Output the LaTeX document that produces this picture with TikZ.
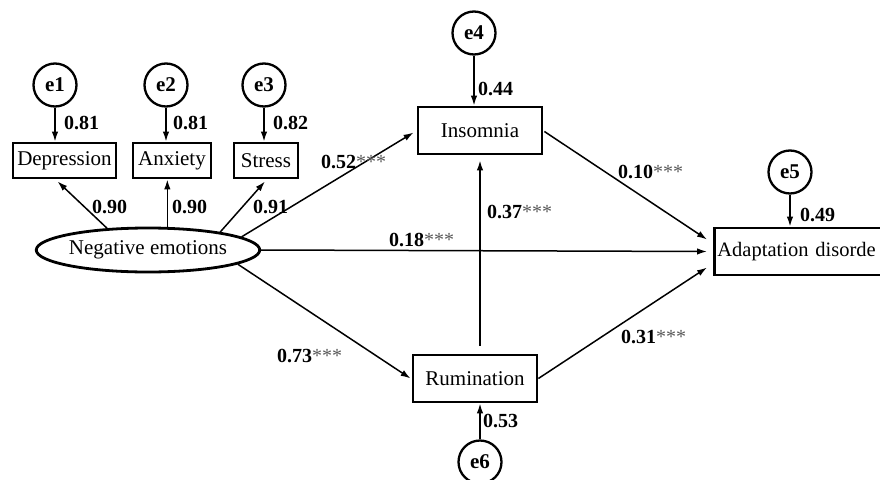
\documentclass[tikz,border=0pt]{standalone}
\usepackage{fontspec}
\setmainfont{Liberation Serif}
\usetikzlibrary{arrows.meta,calc,shapes.geometric}
\begin{document}
\begin{tikzpicture}[x=1pt,y=-1pt,
  every node/.style={font=\fontsize{21}{24}\selectfont},
  obs/.style={draw,line width=2.8pt,inner sep=0pt,minimum height=35pt},
  obsbig/.style={draw,line width=2.8pt,inner sep=0pt,minimum height=47pt,minimum width=124pt},
  err/.style={draw,circle,line width=2.3pt,minimum size=43pt,inner sep=0pt,font=\fontsize{21}{22}\selectfont\bfseries},
  lat/.style={draw,ellipse,line width=2.8pt,minimum width=210pt,minimum height=44pt,inner sep=0pt},
  arr/.style={line width=1.5pt,-{Latex[length=10pt,width=6.5pt]}},
  lab/.style={anchor=west,inner sep=0pt,font=\fontsize{20}{22}\selectfont\bfseries},
]
\useasboundingbox (0,0) rectangle (880,479);
\clip (0,0) rectangle (880,479);
\newcommand{\stars}{{\mdseries\color{black!65}***}}
% error circles
\node[err] (e1) at (55,85) {e1};
\node[err] (e2) at (166,85) {e2};
\node[err] (e3) at (264,85) {e3};
\node[err] (e4) at (474,33) {e4};
\node[err] (e5) at (790,172) {e5};
\node[err] (e6) at (480,462) {e6};
% indicators
\node[obs,minimum width=103pt] (dep) at (64.5,160.5) {Depression};
\node[obs,minimum width=78pt] (anx) at (172,160.5) {Anxiety};
\node[obs,minimum width=64pt] (str) at (266,160.5) {Stress};
% latent
\node[lat] (neg) at (148,250) {Negative emotions};
% mediators and outcome
\node[obsbig] (ins) at (480,130.5) {Insomnia};
\node[obsbig] (rum) at (475,378.5) {Rumination};
\node[draw,line width=2.8pt,inner sep=0pt,minimum height=47pt,minimum width=200pt,anchor=west,text width=196pt,align=left,font=\fontsize{20.5}{24}\selectfont] (ad) at (713,251.5) {\hspace{1pt}Adaptation disorde};
% error arrows
\draw[arr] (e1.south) -- (e1.south |- dep.north);
\draw[arr] (e2.south) -- (e2.south |- anx.north);
\draw[arr] (e3.south) -- (e3.south |- str.north);
\draw[arr] (e4.south) -- (e4.south |- ins.north);
\draw[arr] (e5.south) -- (e5.south |- ad.north);
\draw[arr] (e6.north) -- (e6.north |- rum.south);
% loadings
\draw[arr] (neg.152) -- ($(dep.south)+(-7,2)$);
\draw[arr] (neg.50) -- (neg.50 |- anx.south);
\draw[arr] (neg.14) -- ($(str.south)+(-1,2)$);
% structural paths
\draw[arr] (neg.8) -- ($(ins.west)+(-3,2)$);
\draw[arr] (neg.east) -- ($(ad.west)+(-6,0)$);
\draw[arr] (neg.-9) -- ($(rum.west)+(-1,0)$);
\draw[arr] ($(ins.east)+(1,1)$) -- ($(ad.west)+(-6,-12)$);
\draw[arr] ($(rum.east)+(0,0)$) -- ($(ad.west)+(-6,16)$);
\draw[arr,shorten <=8pt,shorten >=5pt] (ins.south |- rum.north) -- (ins.south);
% labels
\node[lab] (l1) at (64,123) {0.81};
\node[lab] (l2) at (173,123) {0.81};
\node[lab] (l3) at (273,123) {0.82};
\node[lab] (l4) at (92,207) {0.90};
\node[lab] (l5) at (172,207) {0.90};
\node[lab] (l6) at (253,207) {0.91};
\node[lab] (l7) at (478,89) {0.44};
\node[lab] (l8) at (800,215) {0.49};
\node[lab] (l9) at (483,421) {0.53};
\node[lab] (l10) at (321,162) {0.52\stars};
\node[lab] (l11) at (389,240) {0.18\stars};
\node[lab] (l12) at (618,172) {0.10\stars};
\node[lab] (l13) at (487,212) {0.37\stars};
\node[lab] (l14) at (277,356) {0.73\stars};
\node[lab] (l15) at (621,337) {0.31\stars};
\end{tikzpicture}
\end{document}
